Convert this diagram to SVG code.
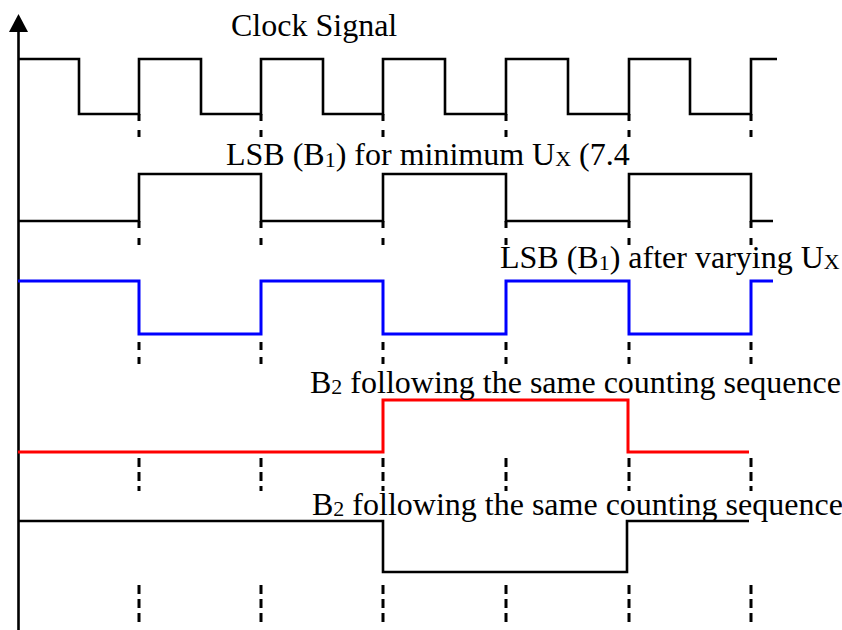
<svg xmlns="http://www.w3.org/2000/svg" width="842" height="630" viewBox="0 0 842 630">
<style>
.sig{fill:none;stroke-width:2.6;stroke-linejoin:miter;stroke-linecap:butt}
.k{stroke:#000}
.b{stroke:#0000ff;stroke-width:3}
.r{stroke:#ff0000;stroke-width:3}
.d{stroke:#000;stroke-width:3;fill:none}
.t{font-family:"Liberation Serif","Times New Roman",serif;font-size:32px;fill:#000}
</style>
<rect width="842" height="630" fill="#fff"/>
<g id="axis">
<line x1="18.5" y1="28" x2="18.5" y2="630" stroke="#000" stroke-width="2.6"/>
<polygon points="18.5,14 9,32 28,32" fill="#000"/>
</g>
<g id="connectors">
<path id="clock" class="sig k" d="M18,59 H79 V114 H139 V59 H201 V114 H261 V59 H323 V114 H383 V59 H445 V114 H506 V59 H568 V114 H629 V59 H690 V114 H751 V59 H777"/>
<path id="lsb" class="sig k" d="M18,221 H139 V174 H261 V221 H383 V174 H506 V221 H629 V174 H751 V221 H773"/>
<path id="lsb-var" class="sig b" d="M18,281 H139 V334 H261 V281 H383 V334 H506 V281 H629 V334 H751 V281 H773"/>
<path id="b2-red" class="sig r" d="M18,452 H383 V400 H628 V452 H749"/>
<path id="b2-black" class="sig k" d="M18,521 H383 V572 H627 V521 H749"/>
<g id="dashes">
<path class="d" stroke-dasharray="7 9" d="M139,114V138 M261,114V138 M383,114V138 M506,114V138 M629,114V138 M751,114V138"/>
<path class="d" stroke-dasharray="7 10" d="M139,221V247 M261,221V247 M383,221V247 M506,221V247 M629,221V247 M751,221V247"/>
<path class="d" stroke-dasharray="8 7" d="M139,342V364 M261,342V364 M383,342V364 M506,342V364 M629,342V364 M751,342V364"/>
<path class="d" stroke-dasharray="9 5" d="M139,458V491 M261,458V491 M383,458V491 M506,458V491 M629,458V491 M751,458V491"/>
<path class="d" stroke-dasharray="9 5" d="M139,585V623 M261,585V623 M383,585V623 M506,585V623 M629,585V623 M751,585V623"/>
</g>
</g>
<g id="label-clock"><text class="t" x="231" y="36">Clock Signal</text></g>
<g id="label-lsb"><text class="t" x="226" y="165">LSB (B<tspan font-size="22" dy="2">1</tspan><tspan dy="-2">) for minimum U</tspan><tspan font-size="22" dy="1">X</tspan><tspan dy="-1"> (7.4</tspan></text></g>
<g id="label-lsb-var"><text class="t" x="500" y="268">LSB (B<tspan font-size="22" dy="2">1</tspan><tspan dy="-2">) after varying U</tspan><tspan font-size="22" dy="1">X</tspan></text></g>
<g id="label-b2-red"><text class="t" x="310" y="393">B<tspan font-size="22" dy="1">2</tspan><tspan dy="-1"> following the same counting sequence</tspan></text></g>
<g id="label-b2-black"><text class="t" x="312" y="515">B<tspan font-size="22" dy="1">2</tspan><tspan dy="-1"> following the same counting sequence</tspan></text></g>
</svg>
